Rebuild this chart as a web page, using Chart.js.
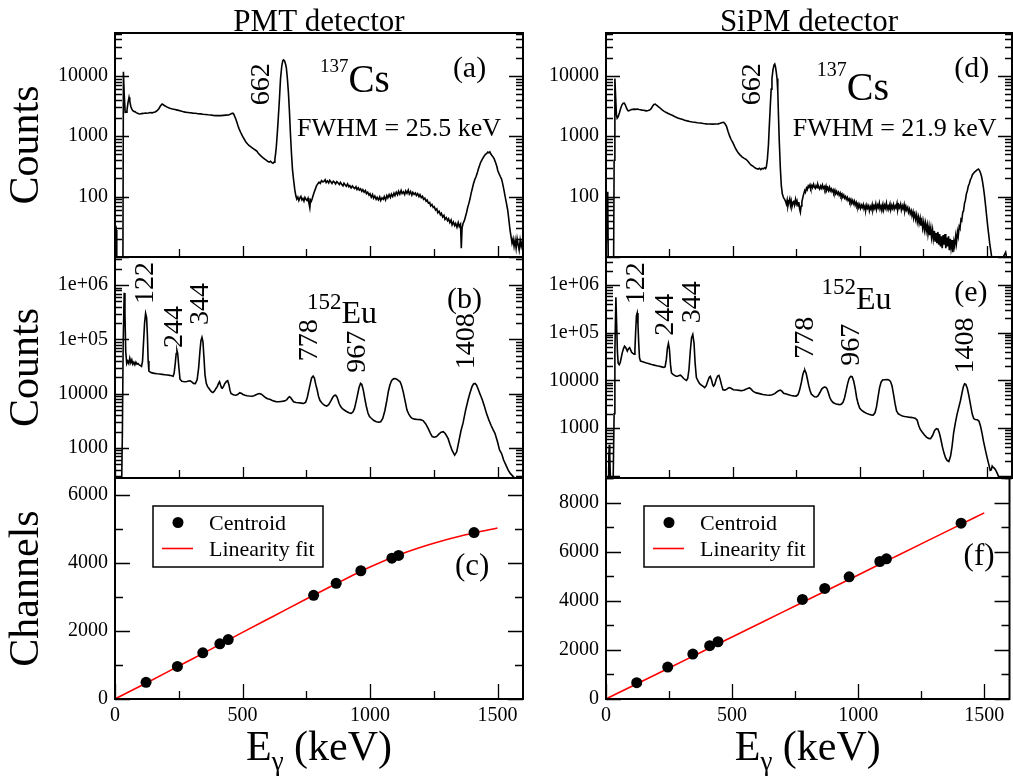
<!DOCTYPE html>
<html>
<head>
<meta charset="utf-8">
<title>PMT vs SiPM gamma spectra</title>
<script src="https://cdn.jsdelivr.net/npm/chart.js@4.4.1/dist/chart.umd.min.js"></script>
<style>
  body { margin: 0; background: #fff; }
  #page { position: relative; width: 1013px; height: 784px; overflow: hidden; background: #fff; }
  #page canvas { position: absolute; top: 0; }
</style>
</head>
<body>
<div id="page">
  <canvas id="chartA" width="530" height="784" style="left:0"></canvas>
  <canvas id="chartB" width="530" height="784" style="left:0"></canvas>
  <canvas id="chartC" width="530" height="784" style="left:0"></canvas>
  <canvas id="chartD" width="490" height="784" style="left:525px"></canvas>
  <canvas id="chartE" width="490" height="784" style="left:525px"></canvas>
  <canvas id="chartF" width="490" height="784" style="left:525px"></canvas>
</div>
<script>
// ---- data: [energy keV, counts] ----
const csPmt = [[0,8],[3,33],[5,28],[7,8],[31,8],[33,11600],[36,5000],[40,2480],[44,2500],[47,2700],[51,3600],[55,4400],[58,3800],[62,3100],[66,2800],[70,2650],[74,2560],[78,2550],[83,2450],[88,2400],[93,2350],[98,2330],[104,2360],[110,2380],[115,2400],[120,2420],[125,2390],[130,2410],[135,2440],[140,2450],[145,2430],[150,2470],[157,2510],[162,2580],[167,2700],[172,2850],[178,3150],[182,3300],[185,3400],[188,3350],[192,3250],[197,3150],[203,3050],[210,2960],[218,2880],[226,2820],[235,2770],[245,2700],[255,2630],[265,2560],[275,2500],[285,2470],[295,2440],[305,2410],[315,2390],[325,2350],[335,2340],[345,2310],[355,2290],[365,2260],[375,2240],[385,2210],[395,2190],[405,2200],[415,2190],[425,2210],[435,2230],[445,2240],[452,2300],[458,2380],[462,2400],[466,2300],[470,2100],[474,1900],[478,1700],[482,1500],[487,1310],[493,1150],[500,1000],[507,890],[514,790],[520,740],[526,700],[532,670],[538,640],[545,610],[550,590],[556,565],[562,520],[568,490],[574,462],[580,440],[587,418],[593,400],[600,380],[605,372],[610,385],[615,365],[620,355],[624,372],[627,417],[630,520],[633,700],[637,1200],[640,1900],[645,4200],[649,8800],[654,14500],[658,17800],[661,18300],[665,17600],[669,15500],[672,13500],[676,9000],[680,5300],[684,2600],[688,1100],[692,520],[696,280],[700,195],[705,130],[709,104],[713,91],[717,98],[721,86],[725,95],[729,101],[733,88],[737,93],[741,84],[745,97],[749,90],[753,86],[757,94],[760,80],[764,65],[767,88],[770,84],[773,91],[777,104],[781,118],[786,134],[790,150],[795,162],[800,173],[805,165],[810,184],[815,176],[819,178],[824,190],[828,171],[833,182],[838,168],[842,186],[847,174],[851,165],[856,180],[861,172],[865,162],[870,177],[875,168],[880,158],[884,172],[889,160],[894,150],[898,166],[903,155],[907,148],[912,162],[917,145],[921,152],[926,139],[931,150],[935,142],[940,136],[945,146],[949,131],[954,140],[958,128],[963,134],[968,122],[972,130],[977,118],[982,126],[986,112],[991,118],[996,106],[1000,112],[1005,98],[1010,108],[1014,94],[1019,102],[1024,90],[1028,97],[1033,88],[1038,99],[1042,86],[1047,95],[1052,90],[1056,100],[1061,88],[1066,104],[1070,95],[1075,108],[1080,97],[1084,110],[1089,100],[1094,114],[1098,104],[1103,118],[1108,107],[1112,122],[1117,110],[1122,126],[1126,112],[1131,120],[1136,108],[1140,124],[1145,113],[1150,128],[1154,110],[1159,121],[1164,106],[1168,118],[1173,109],[1178,115],[1182,104],[1187,112],[1192,100],[1196,108],[1201,96],[1206,101],[1210,90],[1215,94],[1220,84],[1224,88],[1229,78],[1234,80],[1238,70],[1243,74],[1248,66],[1252,68],[1257,60],[1262,63],[1266,54],[1271,57],[1276,50],[1280,53],[1285,46],[1290,49],[1294,42],[1299,45],[1304,40],[1308,43],[1313,37],[1318,41],[1322,34],[1327,38],[1332,33],[1336,36],[1341,31],[1346,37],[1350,32],[1355,35],[1358,14],[1361,30],[1365,36],[1370,40],[1374,46],[1379,55],[1383,66],[1388,78],[1392,91],[1397,115],[1402,140],[1406,165],[1411,192],[1416,215],[1420,240],[1425,285],[1430,330],[1434,370],[1439,405],[1444,440],[1448,470],[1453,500],[1458,520],[1462,545],[1466,530],[1470,550],[1474,505],[1478,480],[1483,450],[1487,420],[1492,370],[1497,320],[1501,270],[1506,240],[1511,215],[1516,195],[1520,165],[1525,130],[1530,100],[1535,78],[1540,60],[1545,40],[1549,28],[1553,22],[1557,17],[1561,20],[1565,15],[1569,19],[1573,14],[1577,20],[1581,16],[1585,13],[1589,19],[1593,15],[1597,18],[1600,16]];

const euPmt = [[0,200],[26,200],[29,2000],[32,80000],[36,720000],[39,300000],[42,60000],[46,36000],[50,40000],[54,36000],[58,45000],[62,37000],[66,42000],[70,35000],[74,38000],[78,34000],[82,38000],[86,35000],[90,36000],[95,34000],[100,33000],[104,32000],[108,40000],[112,90000],[116,200000],[120,302000],[124,250000],[127,120000],[130,40000],[133,26000],[138,25000],[145,24200],[155,23700],[165,23300],[175,23000],[185,22700],[195,22400],[205,22100],[215,21800],[222,21500],[228,21000],[232,24000],[236,35000],[240,55000],[243,63000],[246,55000],[250,32000],[255,18500],[262,17000],[268,16800],[275,16600],[282,16800],[288,17200],[295,17300],[302,16400],[308,15500],[315,15300],[322,18000],[328,30000],[333,60000],[337,95000],[341,109000],[345,90000],[349,45000],[353,22000],[358,15500],[363,13500],[368,12600],[374,11500],[379,10800],[384,10500],[390,11200],[396,12500],[401,13500],[406,15500],[410,16700],[414,14500],[418,12800],[421,12600],[426,13800],[431,15500],[437,16800],[442,17300],[447,14500],[451,11500],[455,10100],[462,9700],[468,9500],[474,9400],[481,9700],[487,10200],[490,10400],[495,10200],[502,9700],[510,9400],[518,9200],[527,9050],[537,9000],[545,9200],[553,9600],[560,9900],[567,10100],[574,9800],[582,9100],[590,8500],[598,8100],[607,7900],[615,7600],[624,7300],[633,7100],[642,7100],[651,7200],[660,7300],[667,7400],[674,7800],[680,8500],[684,8800],[688,8600],[694,7800],[700,7100],[710,6900],[720,6800],[730,6700],[740,6600],[748,7000],[754,8500],[760,11500],[766,15500],[771,19500],[777,21100],[782,19500],[787,15000],[793,11700],[798,9000],[804,7500],[813,6600],[822,6100],[830,5900],[838,6300],[846,7300],[854,8600],[860,9300],[865,9400],[870,8800],[875,7600],[879,6600],[885,5800],[892,5300],[899,5000],[908,4700],[917,4450],[926,4340],[933,4600],[939,5300],[945,7000],[952,10000],[957,13000],[963,15500],[968,14800],[974,11500],[979,8500],[985,6000],[992,4400],[998,3800],[1005,3530],[1015,3200],[1025,3050],[1035,3000],[1042,3050],[1050,3500],[1058,4800],[1066,7500],[1072,11000],[1078,14500],[1085,17500],[1092,18800],[1098,19000],[1105,18500],[1112,17500],[1118,16600],[1124,14000],[1131,10500],[1138,7200],[1145,5000],[1152,4200],[1160,3700],[1165,3530],[1175,3400],[1185,3350],[1198,3330],[1208,3200],[1218,2800],[1228,2300],[1236,1900],[1244,1620],[1252,1580],[1261,1630],[1270,1800],[1279,1950],[1287,2000],[1295,1850],[1306,1500],[1314,1150],[1322,900],[1332,740],[1340,850],[1348,1300],[1357,2100],[1365,2900],[1375,5000],[1385,7800],[1392,10300],[1400,13500],[1406,15100],[1412,15500],[1418,14300],[1424,12200],[1431,10000],[1440,7800],[1448,6000],[1457,4300],[1466,3300],[1475,2600],[1483,2150],[1490,1860],[1500,1300],[1508,920],[1516,790],[1524,600],[1530,520],[1542,390],[1550,340],[1561,300],[1570,270],[1580,250]];

const csSipm = [[0,8],[3,8],[5,120],[7,90],[9,8],[30,8],[32,400],[35,9000],[38,4500],[41,2300],[44,1980],[48,2100],[53,2450],[58,2900],[63,3300],[68,3500],[72,3530],[76,3300],[81,2900],[86,2650],[90,2630],[95,2700],[100,2750],[106,2780],[112,2800],[118,2780],[124,2820],[130,2760],[136,2740],[142,2700],[148,2680],[154,2650],[160,2620],[166,2650],[172,2700],[178,2850],[184,3150],[189,3350],[194,3400],[199,3250],[205,3100],[212,2950],[220,2750],[228,2600],[236,2480],[245,2380],[254,2280],[263,2200],[272,2100],[283,2000],[292,1950],[300,1900],[310,1840],[320,1790],[330,1750],[340,1720],[350,1700],[360,1670],[372,1650],[384,1620],[396,1600],[408,1590],[420,1580],[432,1590],[442,1600],[450,1630],[458,1680],[464,1690],[469,1600],[475,1450],[481,1200],[487,1010],[493,880],[500,780],[507,670],[514,590],[521,530],[528,490],[536,455],[545,430],[553,410],[560,380],[567,350],[573,330],[579,320],[585,305],[590,295],[595,290],[600,285],[605,295],[610,280],[615,292],[620,288],[625,300],[629,290],[632,310],[636,420],[640,700],[644,1600],[648,3500],[651,6000],[654,9000],[658,12500],[662,15000],[665,15600],[668,14000],[671,11500],[674,9000],[677,5500],[680,2000],[683,800],[687,300],[691,150],[695,110],[700,95],[704,90],[708,82],[711,75],[714,88],[717,70],[720,80],[724,92],[727,72],[730,84],[733,68],[737,79],[740,86],[743,73],[747,90],[750,76],[753,84],[757,70],[760,81],[763,62],[766,55],[769,70],[772,82],[776,98],[779,110],[783,126],[786,118],[790,138],[793,130],[797,150],[800,142],[804,156],[807,138],[811,152],[814,140],[818,160],[821,145],[825,137],[828,152],[832,140],[835,158],[839,142],[842,133],[846,150],[849,138],[853,155],[856,136],[860,146],[863,132],[867,150],[870,128],[874,140],[877,126],[881,142],[884,124],[888,134],[891,120],[895,130],[898,116],[902,128],[905,112],[909,122],[912,110],[916,118],[919,105],[923,115],[926,102],[930,110],[933,98],[937,106],[940,94],[944,100],[947,90],[951,97],[954,86],[958,92],[961,82],[965,90],[968,78],[972,86],[975,76],[979,84],[982,72],[986,80],[989,70],[993,76],[996,66],[1000,74],[1003,64],[1007,72],[1010,66],[1014,74],[1017,62],[1021,70],[1024,60],[1028,72],[1031,64],[1035,70],[1038,58],[1042,68],[1045,62],[1049,74],[1052,60],[1056,70],[1059,64],[1063,76],[1066,61],[1070,72],[1073,66],[1077,78],[1080,62],[1084,70],[1087,64],[1091,75],[1094,60],[1098,72],[1101,65],[1105,78],[1108,62],[1112,70],[1115,66],[1119,76],[1122,60],[1126,71],[1129,64],[1133,74],[1136,62],[1140,70],[1143,65],[1147,78],[1150,61],[1154,72],[1157,66],[1161,75],[1164,60],[1168,70],[1171,63],[1175,74],[1178,58],[1182,68],[1185,60],[1189,66],[1192,55],[1196,62],[1199,52],[1203,58],[1206,48],[1210,56],[1213,45],[1217,52],[1220,42],[1224,50],[1227,38],[1231,46],[1234,36],[1238,44],[1241,33],[1245,40],[1248,30],[1252,38],[1255,28],[1259,36],[1262,27],[1266,34],[1269,24],[1273,32],[1276,23],[1280,30],[1283,21],[1287,28],[1290,20],[1294,27],[1297,18],[1301,25],[1304,17],[1308,26],[1311,16],[1315,24],[1318,15],[1322,22],[1325,14],[1329,23],[1332,16],[1336,24],[1339,14],[1343,21],[1346,15],[1350,22],[1353,13],[1357,20],[1360,14],[1364,19],[1367,12],[1371,18],[1374,15],[1378,22],[1381,17],[1385,26],[1388,22],[1392,32],[1395,30],[1399,42],[1402,40],[1406,55],[1409,58],[1413,78],[1416,85],[1420,110],[1424,125],[1428,150],[1432,165],[1436,190],[1440,205],[1444,230],[1448,240],[1452,255],[1456,262],[1460,272],[1464,280],[1468,285],[1472,270],[1476,245],[1480,215],[1484,175],[1488,135],[1492,100],[1496,70],[1500,48],[1504,33],[1508,24],[1512,17],[1516,13],[1520,10],[1530,9],[1560,9],[1575,12],[1580,9],[1600,9]];

const euSipm = [[0,60],[4,60],[8,80],[11,250],[13,450],[15,250],[18,70],[28,70],[32,2000],[35,40000],[39,560000],[42,150000],[45,40000],[48,23000],[52,21500],[56,23700],[60,30000],[64,38000],[68,45000],[73,52500],[77,50000],[81,45000],[84,41500],[88,46000],[93,49000],[97,44000],[101,39000],[106,37000],[111,35500],[114,45000],[117,110000],[120,230000],[123,262000],[126,150000],[129,60000],[132,30000],[136,25600],[142,25000],[150,24200],[160,23300],[170,22500],[180,21700],[190,21000],[200,20400],[210,19900],[220,19300],[228,18800],[233,19500],[238,28000],[242,48000],[246,60000],[250,45000],[254,22000],[258,14500],[264,13500],[270,12800],[276,12300],[282,12300],[288,12700],[294,12900],[300,12000],[306,11000],[312,10400],[317,10000],[322,11000],[327,17000],[332,40000],[337,78000],[342,92000],[347,60000],[351,24000],[356,11700],[362,9900],[369,8600],[376,8000],[383,7500],[389,7100],[395,7800],[402,10000],[407,11700],[411,12200],[416,10200],[421,8000],[424,7600],[429,8400],[434,10500],[440,12400],[445,12800],[450,10500],[456,7800],[461,6400],[468,6300],[475,6500],[481,6900],[487,7100],[494,6800],[502,6400],[514,6300],[525,6200],[535,6100],[545,6300],[553,6600],[560,6900],[566,7000],[573,6500],[580,5900],[592,5500],[605,5300],[618,5100],[632,4950],[645,4900],[655,5000],[665,5300],[672,5700],[680,6100],[687,6300],[694,5900],[700,5400],[711,5200],[720,5000],[730,4850],[740,4750],[750,4700],[757,5100],[763,6300],[770,9200],[776,13500],[781,16000],[784,16300],[789,14000],[794,10500],[799,7800],[804,6200],[809,5200],[816,4800],[822,4550],[829,4500],[836,4800],[843,5600],[850,6600],[856,7100],[861,7300],[866,7200],[871,6700],[876,5600],[882,4400],[888,3800],[895,3450],[902,3300],[908,3200],[915,3150],[922,3100],[928,3200],[934,3500],[940,4300],[946,6000],[952,8500],[958,11000],[964,12200],[970,12000],[976,9800],[982,6800],[988,4300],[994,3200],[1000,2600],[1008,2350],[1017,2180],[1027,2040],[1036,1950],[1045,1900],[1053,1880],[1060,2100],[1066,2800],[1072,4500],[1078,7000],[1084,9200],[1090,10200],[1099,10400],[1108,10450],[1115,10300],[1121,9600],[1127,7800],[1133,5200],[1139,3300],[1145,2300],[1152,2000],[1159,1900],[1168,1800],[1177,1760],[1185,1740],[1193,1700],[1201,1680],[1210,1660],[1218,1620],[1226,1480],[1232,1150],[1238,950],[1246,830],[1255,720],[1263,650],[1271,610],[1279,600],[1287,700],[1295,900],[1302,980],[1308,950],[1314,780],[1320,570],[1326,400],[1332,300],[1338,240],[1344,210],[1351,200],[1358,260],[1364,420],[1370,800],[1377,1300],[1383,1900],[1390,2700],[1397,3800],[1403,5500],[1408,7300],[1413,8500],[1418,8300],[1424,6800],[1430,4800],[1437,3000],[1443,2000],[1449,1590],[1455,1520],[1461,1500],[1465,1480],[1470,1400],[1476,1100],[1482,780],[1488,520],[1495,350],[1502,240],[1509,170],[1514,130],[1518,133],[1522,160],[1526,150],[1530,145],[1535,135],[1541,115],[1546,100],[1550,80],[1560,60],[1600,60]];

// centroids of the 152Eu lines
const lineKeV = [121.8, 244.7, 344.3, 411.1, 444.0, 778.9, 867.4, 964.1, 1085.8, 1112.1, 1408.0];
const chanPmt = [489, 958, 1358, 1622, 1749, 3049, 3401, 3772, 4143, 4222, 4896];
const chanSipm = [664, 1302, 1831, 2170, 2332, 4054, 4502, 4976, 5600, 5708, 7159];
// linearity fit curves
const fitKeV = [0, 125, 250, 375, 500, 625, 750, 875, 1000, 1125, 1250, 1375, 1500];
const fitPmt = [0, 480, 970, 1460, 1960, 2450, 2940, 3420, 3880, 4270, 4580, 4830, 5030];
const fitSipm = [0, 632, 1263, 1895, 2527, 3158, 3790, 4422, 5053, 5685, 6317, 6948, 7580];

// tick labels
const xTicks = [0, 500, 1000, 1500];
const csTicks = [100, 1000, 10000];
const euTicks = [1000, 10000, 100000, 1000000];
const chPmtTicks = [0, 2000, 4000, 6000];
const chSipmTicks = [0, 2000, 4000, 6000, 8000];

const SERIF = '"Liberation Serif", "Times New Roman", serif';
Chart.defaults.font.family = SERIF;
Chart.defaults.color = '#000';

function pairs(arr) { return arr.map(p => ({x: p[0], y: p[1]})); }
function zip(xs, ys) { return xs.map((x, i) => ({x: x, y: ys[i]})); }
function fmtTick(v) {
  if (v >= 100000) return '1e+0' + Math.round(Math.log10(v));
  return String(v);
}

// box with inward ticks on left, right and bottom (xmgrace style)
const framePlugin = {
  id: 'frame',
  afterDraw(chart, args, o) {
    const {ctx, chartArea: a} = chart;
    const xs = chart.scales.x, ys = chart.scales.y;
    ctx.save();
    ctx.strokeStyle = '#000';
    ctx.lineWidth = 1.3;
    ctx.beginPath();
    for (let v = 0; v <= xs.max; v += 250) {
      const px = Math.round(xs.getPixelForValue(v)) + 0.5;
      const len = v % 500 === 0 ? o.xMajor : o.xMinor;
      ctx.moveTo(px, a.bottom); ctx.lineTo(px, a.bottom - len);
    }
    const yt = [];
    if (ys.type === 'logarithmic') {
      for (let d = Math.floor(Math.log10(ys.min)); d <= Math.ceil(Math.log10(ys.max)); d++) {
        for (let m = 1; m < 10; m++) yt.push([m * Math.pow(10, d), m === 1]);
      }
    } else {
      for (let v = 0; v <= ys.max; v += 1000) yt.push([v, v % 2000 === 0]);
    }
    yt.forEach(([v, major]) => {
      if (v < ys.min || v > ys.max) return;
      const py = Math.round(ys.getPixelForValue(v)) + 0.5;
      const len = major ? o.yMajor : o.yMinor;
      ctx.moveTo(a.left, py); ctx.lineTo(a.left + len, py);
      ctx.moveTo(a.right, py); ctx.lineTo(a.right - len, py);
    });
    ctx.stroke();
    ctx.lineWidth = 2;
    ctx.strokeRect(a.left, a.top, a.right - a.left, a.bottom - a.top);
    ctx.restore();
  }
};

// titles, peak labels, panel letters, x axis title
const notesPlugin = {
  id: 'notes',
  afterDraw(chart, args, o) {
    const {ctx, chartArea: a} = chart;
    const xs = chart.scales.x, ys = chart.scales.y;
    ctx.save();
    ctx.fillStyle = '#000';
    if (o.title) {
      ctx.font = '31px ' + SERIF;
      ctx.textAlign = 'center';
      ctx.textBaseline = 'alphabetic';
      ctx.fillText(o.title, (a.left + a.right) / 2, a.top - 2);
    }
    (o.items || []).forEach(it => {
      const px = xs.getPixelForValue(it.x);
      const py = ys.getPixelForValue(it.y);
      if (it.rot) {
        ctx.save();
        ctx.translate(px, py);
        ctx.rotate(-Math.PI / 2);
        ctx.font = '28px ' + SERIF;
        ctx.textAlign = 'center';
        ctx.textBaseline = 'middle';
        ctx.fillText(it.text, 0, 0);
        ctx.restore();
        return;
      }
      ctx.textAlign = 'left';
      ctx.textBaseline = 'alphabetic';
      let cx = px;
      if (it.sup) {
        ctx.font = it.supSize + 'px ' + SERIF;
        ctx.fillText(it.sup, cx, py - it.supDy);
        cx += ctx.measureText(it.sup).width;
      }
      ctx.font = it.size + 'px ' + SERIF;
      ctx.fillText(it.text, cx, py);
    });
    if (o.xTitle) {
      const base = a.bottom + 61;
      ctx.textAlign = 'left';
      ctx.textBaseline = 'alphabetic';
      ctx.font = '42px ' + SERIF;
      const wE = ctx.measureText('E').width;
      const wR = ctx.measureText(' (keV)').width;
      ctx.font = '27px ' + SERIF;
      const wG = ctx.measureText('\u03b3').width;
      let x0 = (a.left + a.right) / 2 - (wE + wG + wR) / 2;
      ctx.font = '42px ' + SERIF;
      ctx.fillText('E', x0, base);
      ctx.font = '27px ' + SERIF;
      ctx.fillText('\u03b3', x0 + wE, base + 10);
      ctx.font = '42px ' + SERIF;
      ctx.fillText(' (keV)', x0 + wE + wG, base);
    }
    ctx.restore();
  }
};

// framed legend inside the channel panels
const boxLegend = {
  id: 'boxLegend',
  afterDraw(chart, args, o) {
    if (!o.show) return;
    const {ctx, chartArea: a} = chart;
    const bx = a.left + o.dx, by = a.top + o.dy;
    ctx.save();
    ctx.strokeStyle = '#000';
    ctx.lineWidth = 1.5;
    ctx.strokeRect(bx, by, o.w, o.h);
    ctx.font = '22px ' + SERIF;
    ctx.fillStyle = '#000';
    ctx.textAlign = 'left';
    ctx.textBaseline = 'alphabetic';
    const rows = [16.5, 42.5];
    chart.data.datasets.forEach((ds, i) => {
      const cy = by + rows[i];
      if (ds.showLine === false) {
        ctx.beginPath();
        ctx.arc(bx + 25, cy, 5.5, 0, Math.PI * 2);
        ctx.fillStyle = ds.pointBackgroundColor;
        ctx.fill();
      } else {
        ctx.beginPath();
        ctx.moveTo(bx + 9, cy);
        ctx.lineTo(bx + 40, cy);
        ctx.strokeStyle = ds.borderColor;
        ctx.lineWidth = ds.borderWidth;
        ctx.stroke();
      }
      ctx.fillStyle = '#000';
      ctx.fillText(ds.label, bx + 56, cy + 7.5);
    });
    ctx.restore();
  }
};

function yAxis(c) {
  return {
    type: c.log ? 'logarithmic' : 'linear',
    min: c.min, max: c.max,
    afterFit: s => { s.width = c.width; },
    afterBuildTicks: s => { s.ticks = c.ticks.map(v => ({value: v})); },
    grid: {display: false, drawTicks: false},
    border: {display: false},
    ticks: {font: {size: 20}, padding: 7, autoSkip: false, maxRotation: 0, callback: v => fmtTick(v)},
    title: {display: !!c.title, text: c.title || '', font: {size: 42, lineHeight: 1}, padding: {top: 6, bottom: 0}}
  };
}

function xAxis(showLabels) {
  return {
    type: 'linear', min: 0, max: 1600,
    display: showLabels,
    afterFit: s => { s.height = showLabels ? 85 : 0; },
    afterBuildTicks: s => { s.ticks = xTicks.map(v => ({value: v})); },
    grid: {display: false, drawTicks: false},
    border: {display: false},
    ticks: {font: {size: 20}, padding: 5, autoSkip: false, maxRotation: 0, callback: v => String(v)}
  };
}

function spectrumChart(id, c) {
  return new Chart(document.getElementById(id), {
    type: 'line',
    data: {
      datasets: [{
        label: c.label,
        data: pairs(c.data),
        borderColor: '#000',
        borderWidth: 1.6,
        pointRadius: 0,
        tension: 0,
        clip: 0
      }]
    },
    options: {
      responsive: false,
      animation: false,
      events: [],
      devicePixelRatio: 1,
      layout: {padding: {left: 0, top: c.top, bottom: c.bottom, right: c.right}},
      scales: {
        x: xAxis(false),
        y: yAxis({log: true, min: c.min, max: c.max, ticks: c.ticks, width: c.width, title: c.ytitle})
      },
      plugins: {
        legend: {display: false},
        tooltip: {enabled: false},
        frame: {xMajor: 11, xMinor: 8, yMajor: 14, yMinor: 7},
        notes: {title: c.title, items: c.notes},
        boxLegend: {show: false}
      }
    },
    plugins: [framePlugin, notesPlugin, boxLegend]
  });
}

function channelChart(id, c) {
  return new Chart(document.getElementById(id), {
    type: 'line',
    data: {
      datasets: [{
        label: 'Centroid',
        data: zip(lineKeV, c.chan),
        showLine: false,
        pointRadius: 5.5,
        pointBackgroundColor: '#000',
        pointBorderColor: '#000',
        pointBorderWidth: 0
      }, {
        label: 'Linearity fit',
        data: zip(fitKeV, c.fit),
        borderColor: '#ff0000',
        borderWidth: 1.6,
        pointRadius: 0,
        tension: 0.4,
        cubicInterpolationMode: 'monotone'
      }]
    },
    options: {
      responsive: false,
      animation: false,
      events: [],
      devicePixelRatio: 1,
      layout: {padding: {left: 0, top: 478, bottom: 0, right: c.right}},
      scales: {
        x: xAxis(true),
        y: yAxis({log: false, min: 0, max: c.max, ticks: c.ticks, width: c.width, title: c.ytitle})
      },
      plugins: {
        legend: {display: false},
        tooltip: {enabled: false},
        frame: {xMajor: 15, xMinor: 8, yMajor: 15, yMinor: 8},
        notes: {items: c.notes, xTitle: true},
        boxLegend: {show: true, dx: 38, dy: 28, w: 170, h: 61}
      }
    },
    plugins: [framePlugin, notesPlugin, boxLegend]
  });
}

// ---- left column: PMT ----
spectrumChart('chartA', {
  label: '137Cs PMT', data: csPmt, top: 33, bottom: 527, right: 7, width: 115,
  min: 10, max: 51000, ticks: csTicks, ytitle: 'Counts', title: 'PMT detector',
  notes: [
    {x: 576, y: 7250, text: '662', rot: true},
    {x: 804, y: 5370, sup: '137', supSize: 19, supDy: 20, text: 'Cs', size: 39},
    {x: 714, y: 1000, text: 'FWHM = 25.5 keV', size: 26},
    {x: 1325, y: 9500, text: '(a)', size: 30}
  ]
});
spectrumChart('chartB', {
  label: '152Eu PMT', data: euPmt, top: 257, bottom: 306, right: 7, width: 115,
  min: 280, max: 3300000, ticks: euTicks, ytitle: 'Counts',
  notes: [
    {x: 122, y: 1100000, text: '122', rot: true},
    {x: 235, y: 170000, text: '244', rot: true},
    {x: 337, y: 450000, text: '344', rot: true},
    {x: 765, y: 97000, text: '778', rot: true},
    {x: 953, y: 59000, text: '967', rot: true},
    {x: 1380, y: 93000, text: '1408', rot: true},
    {x: 753, y: 200000, sup: '152', supSize: 23, supDy: 14, text: 'Eu', size: 32},
    {x: 1302, y: 380000, text: '(b)', size: 30}
  ]
});
channelChart('chartC', {
  chan: chanPmt, fit: fitPmt, right: 7, width: 115, max: 6500, ticks: chPmtTicks, ytitle: 'Channels',
  notes: [{x: 1333, y: 3657, text: '(c)', size: 31}]
});

// ---- right column: SiPM ----
spectrumChart('chartD', {
  label: '137Cs SiPM', data: csSipm, top: 33, bottom: 527, right: 3, width: 81,
  min: 10, max: 51000, ticks: csTicks, title: 'SiPM detector',
  notes: [
    {x: 578, y: 7250, text: '662', rot: true},
    {x: 831, y: 3970, sup: '137', supSize: 20, supDy: 24, text: 'Cs', size: 40},
    {x: 736, y: 1000, text: 'FWHM = 21.9 keV', size: 26},
    {x: 1372, y: 9500, text: '(d)', size: 30}
  ]
});
spectrumChart('chartE', {
  label: '152Eu SiPM', data: euSipm, top: 257, bottom: 306, right: 3, width: 81,
  min: 90, max: 3900000, ticks: euTicks,
  notes: [
    {x: 122, y: 1100000, text: '122', rot: true},
    {x: 236, y: 240000, text: '244', rot: true},
    {x: 342, y: 440000, text: '344', rot: true},
    {x: 786, y: 79000, text: '778', rot: true},
    {x: 967, y: 56000, text: '967', rot: true},
    {x: 1419, y: 54000, text: '1408', rot: true},
    {x: 849, y: 316000, sup: '152', supSize: 23, supDy: 15, text: 'Eu', size: 32},
    {x: 1372, y: 460000, text: '(e)', size: 30}
  ]
});
channelChart('chartF', {
  chan: chanSipm, fit: fitSipm, right: 3, width: 81, max: 9000, ticks: chSipmTicks,
  notes: [{x: 1418, y: 5437, text: '(f)', size: 31}]
});
</script>
</body>
</html>
